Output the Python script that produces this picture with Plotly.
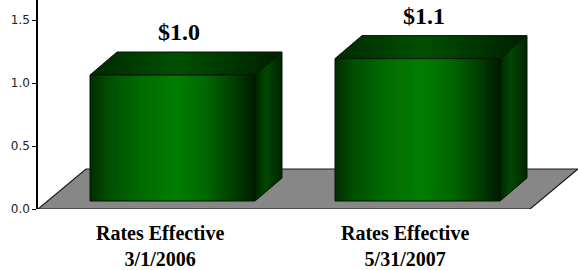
import plotly.graph_objects as go

# ---- data ----
categories = ["Rates Effective<br>3/1/2006", "Rates Effective<br>5/31/2007"]
values = [1.0, 1.13]
value_labels = ["${:.1f}".format(v) for v in values]
ytick_vals = [0.0, 0.5, 1.0, 1.5]
ytick_text = ["0.0", "0.5", "1.0", "1.5"]

# ---- geometry / style (pixel scale helpers) ----
PX_X = 245.0   # px per category unit
PX_Y = 126.0   # px per value unit
W, H = 578, 270
ML, MB = 38, 61
plot_w, plot_h = W - ML, H - MB
x0 = -134.5 / PX_X
x_range = [x0, x0 + plot_w / PX_X]
y_range = [0, plot_h / PX_Y]

bar_w = 165 / PX_X
bar_dx, bar_dy = 27 / PX_X, 23 / PX_Y
floor_dx, floor_dy = 48 / PX_X, 40 / PX_Y
bar_base = 8 / PX_Y
floor_right = x_range[1] - floor_dx

front_cs = [[0, "#002c00"], [0.1, "#004c00"], [0.3, "#006a00"], [0.52, "#007e00"],
            [0.7, "#006800"], [0.88, "#003c00"], [1, "#001c00"]]
side_cs = [[0, "#002400"], [0.4, "#004800"], [1, "#002400"]]
top_cs = [[0, "#002800"], [0.45, "#005000"], [1, "#001e00"]]
edge = "#001800"

fig = go.Figure()

# floor
fx = [x_range[0], floor_right, floor_right + floor_dx, x_range[0] + floor_dx, x_range[0]]
fy = [0, 0, floor_dy, floor_dy, 0]
fig.add_trace(go.Scatter(x=fx, y=fy, mode="lines", fill="toself", fillcolor="#878787",
                         line=dict(color="#1a1a1a", width=1.2), hoverinfo="skip", showlegend=False))

for i, v in enumerate(values):
    xl, xr = i - bar_w / 2, i + bar_w / 2
    yb, yt = bar_base, bar_base + v
    # side face
    sx = [xr, xr + bar_dx, xr + bar_dx, xr, xr]
    sy = [yb, yb + bar_dy, yt + bar_dy, yt, yb]
    fig.add_trace(go.Scatter(x=sx, y=sy, mode="lines", fill="toself",
                             fillgradient=dict(type="horizontal", colorscale=side_cs,
                                               start=xr, stop=xr + bar_dx),
                             line=dict(color=edge, width=1), hoverinfo="skip", showlegend=False))
    # top face
    tx = [xl, xr, xr + bar_dx, xl + bar_dx, xl]
    ty = [yt, yt, yt + bar_dy, yt + bar_dy, yt]
    fig.add_trace(go.Scatter(x=tx, y=ty, mode="lines", fill="toself",
                             fillgradient=dict(type="horizontal", colorscale=top_cs,
                                               start=xl, stop=xr + bar_dx),
                             line=dict(color=edge, width=1), hoverinfo="skip", showlegend=False))
    # front face
    ax = [xl, xr, xr, xl, xl]
    ay = [yb, yb, yt, yt, yb]
    fig.add_trace(go.Scatter(x=ax, y=ay, mode="lines", fill="toself",
                             fillgradient=dict(type="horizontal", colorscale=front_cs,
                                               start=xl, stop=xr),
                             line=dict(color=edge, width=1), hoverinfo="skip", showlegend=False))
    # value label
    fig.add_annotation(x=i + 6 / PX_X, y=yt + bar_dy, text="<b>%s</b>" % value_labels[i],
                       showarrow=False, yanchor="bottom", yshift=5,
                       font=dict(family="Liberation Serif", size=24, color="#000000"))
    # category label
    fig.add_annotation(x=i - 13 / PX_X, y=0, text="<b>%s</b>" % categories[i],
                       showarrow=False, yanchor="top", yshift=-11,
                       font=dict(family="Liberation Serif", size=20, color="#000000"))

fig.update_layout(
    template="none",
    width=W, height=H,
    margin=dict(l=ML, r=0, t=0, b=MB, pad=0, autoexpand=False),
    paper_bgcolor="white", plot_bgcolor="white",
    hovermode=False,
    xaxis=dict(range=x_range, visible=False, fixedrange=True, automargin=False),
    yaxis=dict(range=y_range, tickvals=ytick_vals, ticktext=ytick_text,
               ticks="outside", ticklen=4, tickwidth=1.2, tickcolor="#000000",
               showline=True, linecolor="#000000", linewidth=1.5,
               showgrid=False, zeroline=False, fixedrange=True, automargin=False,
               tickfont=dict(family="DejaVu Sans", size=12, color="#222222")),
)

fig.write_html("out.html", config={"displayModeBar": False},
               post_script="document.body.style.margin='0';document.body.style.padding='0';")
